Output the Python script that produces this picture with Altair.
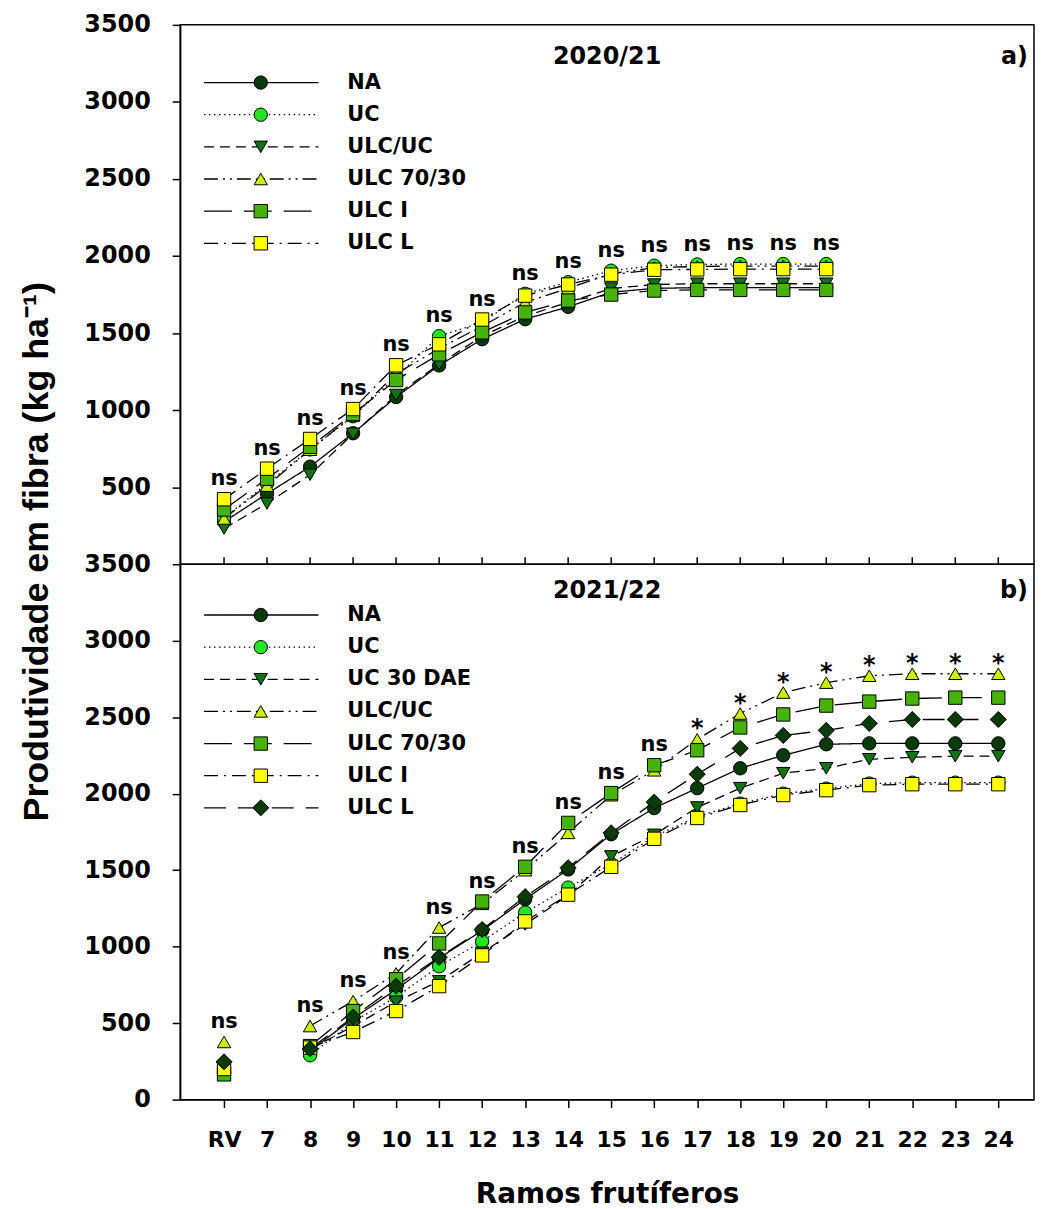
import altair as alt
import pandas as pd

# ---------------- data ----------------
x_labels = ["RV", "7", "8", "9", "10", "11", "12", "13", "14", "15", "16",
            "17", "18", "19", "20", "21", "22", "23", "24"]

top_x = ["RV", "7", "8", "9", "10", "11", "12", "13", "14", "15", "16", "17", "18", "19", "20"]
top_series = ["NA", "UC", "ULC/UC", "ULC 70/30", "ULC I", "ULC L"]
top_NA = [275, 458, 633, 850, 1085, 1290, 1460, 1590, 1670, 1765, 1790, 1795, 1795, 1795, 1795]
top_UC = [300, 523, 745, 960, 1215, 1480, 1570, 1755, 1830, 1905, 1937, 1945, 1948, 1948, 1948]
top_ULC_UC = [232, 394, 581, 846, 1098, 1298, 1480, 1610, 1700, 1789, 1815, 1820, 1820, 1820, 1820]
top_ULC_7030 = [297, 510, 743, 965, 1235, 1400, 1545, 1700, 1790, 1885, 1925, 1932, 1935, 1935, 1935]
top_ULC_I = [355, 555, 762, 975, 1195, 1362, 1505, 1634, 1711, 1750, 1776, 1780, 1780, 1780, 1780]
top_ULC_L = [422, 620, 813, 1007, 1291, 1427, 1588, 1743, 1815, 1879, 1911, 1913, 1915, 1915, 1915]
top_sig = ["ns", "ns", "ns", "ns", "ns", "ns", "ns", "ns", "ns", "ns", "ns", "ns", "ns", "ns", "ns"]

bottom_x = ["RV", "8", "9", "10", "11", "12", "13", "14", "15", "16",
            "17", "18", "19", "20", "21", "22", "23", "24"]
bottom_series = ["NA", "UC", "UC 30 DAE", "ULC/UC", "ULC 70/30", "ULC I", "ULC L"]
bot_NA = [210, 320, 530, 720, 925, 1105, 1310, 1505, 1735, 1906, 2036, 2166, 2251, 2323, 2329, 2329, 2329, 2329]
bot_UC = [180, 290, 510, 670, 872, 1034, 1223, 1386, 1540, 1720, 1850, 1935, 2000, 2033, 2066, 2072, 2072, 2072]
bot_UC30 = [190, 330, 480, 640, 774, 960, 1145, 1335, 1590, 1731, 1910, 2036, 2134, 2166, 2225, 2238, 2245, 2245]
bot_ULC_UC = [377, 481, 644, 825, 1125, 1280, 1500, 1744, 1990, 2153, 2355, 2524, 2661, 2726, 2771, 2784, 2784, 2784]
bot_ULC_7030 = [165, 350, 579, 787, 1021, 1295, 1522, 1809, 2004, 2186, 2284, 2433, 2518, 2576, 2602, 2622, 2628, 2628]
bot_ULC_I = [200, 340, 442, 579, 742, 943, 1165, 1340, 1522, 1705, 1841, 1926, 1991, 2023, 2056, 2062, 2062, 2062]
bot_ULC_L = [247, 332, 540, 742, 930, 1112, 1327, 1516, 1744, 1945, 2127, 2296, 2381, 2414, 2459, 2485, 2485, 2485]
bottom_sig = ["ns", "ns", "ns", "ns", "ns", "ns", "ns", "ns", "ns", "ns",
              "*", "*", "*", "*", "*", "*", "*", "*"]

panel_titles = ["2020/21", "2021/22"]
panel_tags = ["a)", "b)"]
y_ticks_top = [500, 1000, 1500, 2000, 2500, 3000, 3500]
y_ticks_bottom = [0, 500, 1000, 1500, 2000, 2500, 3000, 3500]
x_title = "Ramos frutíferos"
y_title = "Produtividade em fibra (kg ha⁻¹)"

# ---------------- styles ----------------
DARK = "#0a3a0a"
BRIGHT = "#22e622"
MID = "#137313"
YG = "#ccee00"
GREEN = "#46b30a"
YELLOW = "#ffff00"

SOLID = [1, 0]
DOT = [1.5, 3.5]
DASH = [10, 6]
DASHDOTDOT = [14, 5, 2, 5, 2, 5]
LONGDASH = [28, 12]
DASHDOT = [14, 6, 2, 6]
MEDDASH = [22, 12]

top_shapes = ["circle", "circle", "triangle-down", "triangle-up", "square", "square"]
top_fills = [DARK, BRIGHT, MID, YG, GREEN, YELLOW]
top_dashes = [SOLID, DOT, DASH, DASHDOTDOT, LONGDASH, DASHDOT]

bot_shapes = ["circle", "circle", "triangle-down", "triangle-up", "square", "square", "diamond"]
bot_fills = [DARK, BRIGHT, MID, YG, GREEN, YELLOW, DARK]
bot_dashes = [SOLID, DOT, DASH, DASHDOTDOT, LONGDASH, DASHDOT, MEDDASH]

FONT = "DejaVu Sans"
W = 858
H_TOP = 542
H_BOT = 538
PT_SIZE = 180
DIA_SIZE = 260
label_expr = "[" + ",".join("'%s'" % l for l in x_labels) + "][datum.value]"


def long_df(xcats, series, values):
    rows = []
    for s, vals in zip(series, values):
        for xc, v in zip(xcats, vals):
            rows.append({"series": s, "xi": x_labels.index(xc), "value": v})
    return pd.DataFrame(rows)


def sig_frame(xcats, sig, df):
    mx = df.groupby("xi")["value"].max()
    xi = [x_labels.index(c) for c in xcats]
    return pd.DataFrame({"xi": xi, "label": sig, "value": [float(mx[i]) for i in xi]})


def panel(df, sdf, series, shapes, fills, dashes, title, tag, height, yticks,
          is_bottom, title_y, legend_y0):
    xscale = alt.Scale(domain=[-1.02, 18.83], nice=False, zero=False)
    yscale = alt.Scale(domain=[0, 3500], nice=False)
    if is_bottom:
        xaxis = alt.Axis(values=list(range(19)), labelExpr=label_expr, title=x_title,
                         grid=False, labelFont=FONT, labelFontSize=22, labelFontWeight="bold",
                         labelPadding=22, titleFont=FONT, titleFontSize=28,
                         titleFontWeight="bold", titlePadding=30, tickSize=8,
                         labelColor="black", titleColor="black")
        yaxis = alt.Axis(values=yticks, format="d", title=y_title, grid=False, labelFont=FONT,
                         labelFontSize=24, labelFontWeight="bold", labelPadding=22,
                         tickSize=8, titleFont="Liberation Sans", titleFontSize=36,
                         titleFontWeight="bold", titleX=-144, titleY=-13, titleAngle=270,
                         titleAlign="center", titleBaseline="middle",
                         labelColor="black", titleColor="black")
        X = alt.X("xi:Q", scale=xscale, axis=xaxis)
    else:
        yaxis = alt.Axis(values=yticks, format="d", title=None, grid=False, labelFont=FONT,
                         labelFontSize=24, labelFontWeight="bold", labelPadding=22,
                         tickSize=8, labelColor="black")
        X = alt.X("xi:Q", scale=xscale, axis=None)
    Y = alt.Y("value:Q", scale=yscale, axis=yaxis)

    dash_enc = alt.StrokeDash("series:N", scale=alt.Scale(domain=series, range=dashes), legend=None)
    shape_enc = alt.Shape("series:N", scale=alt.Scale(domain=series, range=shapes), legend=None)
    fill_enc = alt.Fill("series:N", scale=alt.Scale(domain=series, range=fills), legend=None)

    base = alt.Chart(df)
    line_src = base.transform_filter("datum.xi > 0") if is_bottom else base
    lines = line_src.mark_line(color="black", strokeWidth=1.3).encode(
        x=X, y=Y, detail="series:N", strokeDash=dash_enc)

    pts = base.transform_filter("datum.series != 'ULC L' || %s" % ("false" if is_bottom else "true")) \
        .mark_point(filled=True, stroke="black", strokeWidth=1, size=PT_SIZE, opacity=1) \
        .encode(x=X, y=Y, shape=shape_enc, fill=fill_enc)
    layers = [lines, pts]
    if is_bottom:
        dia = base.transform_filter("datum.series == 'ULC L'") \
            .mark_point(filled=True, stroke="black", strokeWidth=1, size=DIA_SIZE, opacity=1) \
            .encode(x=X, y=Y, shape=shape_enc, fill=fill_enc)
        layers.append(dia)

    ns = alt.Chart(sdf).transform_filter("datum.label == 'ns'").mark_text(
        font=FONT, fontSize=21, fontWeight="bold", dy=-20, baseline="middle", color="black"
    ).encode(x=X, y=Y, text="label:N")
    star = alt.Chart(sdf).transform_filter("datum.label == '*'").mark_text(
        font=FONT, fontSize=24, fontWeight="bold", dy=-10, baseline="middle", color="black"
    ).encode(x=X, y=Y, text="label:N")
    layers += [ns, star]

    tdf = pd.DataFrame({"t": [title], "g": [tag]})
    ttl = alt.Chart(tdf).mark_text(font=FONT, fontSize=24, fontWeight="bold",
                                   baseline="middle", align="center", color="black").encode(
        text="t:N", x=alt.value(W / 2), y=alt.value(title_y))
    tg = alt.Chart(tdf).mark_text(font=FONT, fontSize=24, fontWeight="bold",
                                  baseline="middle", align="right", color="black").encode(
        text="g:N", x=alt.value(W - 6), y=alt.value(title_y))
    layers += [ttl, tg]

    ldf = pd.DataFrame({"series": series, "row": list(range(len(series)))})
    lbase = alt.Chart(ldf).transform_calculate(ly="%f + datum.row * 32.3" % legend_y0)
    LY = alt.Y("ly:Q", scale=None)
    lrule = lbase.mark_rule(color="black", strokeWidth=1.3).encode(
        x=alt.value(24), x2=alt.value(139), y=LY, strokeDash=dash_enc)
    lpt = lbase.transform_filter("datum.series != 'ULC L' || %s" % ("false" if is_bottom else "true")) \
        .mark_point(filled=True, stroke="black", strokeWidth=1, size=PT_SIZE, opacity=1) \
        .encode(x=alt.value(81), y=LY, shape=shape_enc, fill=fill_enc)
    layers += [lrule, lpt]
    if is_bottom:
        lpt2 = lbase.transform_filter("datum.series == 'ULC L'") \
            .mark_point(filled=True, stroke="black", strokeWidth=1, size=DIA_SIZE, opacity=1) \
            .encode(x=alt.value(81), y=LY, shape=shape_enc, fill=fill_enc)
        layers.append(lpt2)
    ltxt = lbase.mark_text(font=FONT, fontSize=21, fontWeight="bold", align="left",
                           baseline="middle", color="black").encode(
        x=alt.value(168), y=LY, text="series:N")
    layers.append(ltxt)

    if not is_bottom:
        tick_df = pd.DataFrame({"xi": list(range(19))})
        ticks = alt.Chart(tick_df).mark_rule(color="black", strokeWidth=1.5).encode(
            x=alt.X("xi:Q", scale=xscale, axis=None), y=alt.value(height - 7), y2=alt.value(height))
        layers.append(ticks)

    return alt.layer(*layers).properties(width=W, height=height)


df_top = long_df(top_x, top_series,
                 [top_NA, top_UC, top_ULC_UC, top_ULC_7030, top_ULC_I, top_ULC_L])
df_bot = long_df(bottom_x, bottom_series,
                 [bot_NA, bot_UC, bot_UC30, bot_ULC_UC, bot_ULC_7030, bot_ULC_I, bot_ULC_L])
sig_top = sig_frame(top_x, top_sig, df_top)
sig_bot = sig_frame(bottom_x, bottom_sig, df_bot)

top = panel(df_top, sig_top, top_series, top_shapes, top_fills, top_dashes,
            panel_titles[0], panel_tags[0], H_TOP, y_ticks_top, False, 32, 58)
bottom = panel(df_bot, sig_bot, bottom_series, bot_shapes, bot_fills, bot_dashes,
               panel_titles[1], panel_tags[1], H_BOT, y_ticks_bottom, True, 27, 51)

chart = alt.vconcat(top, bottom, spacing=0).properties(
    bounds="flush",
    padding={"left": 10, "top": 1, "right": 0, "bottom": 5},
).resolve_scale(
    x="independent", y="independent", shape="independent", fill="independent",
    strokeDash="independent"
).configure_view(
    stroke="black", strokeWidth=1.5
).configure_axis(
    domainColor="black", domainWidth=1.5, tickColor="black", tickWidth=1.5
)

chart.save("out.html", embed_options={"renderer": "svg", "actions": False})
